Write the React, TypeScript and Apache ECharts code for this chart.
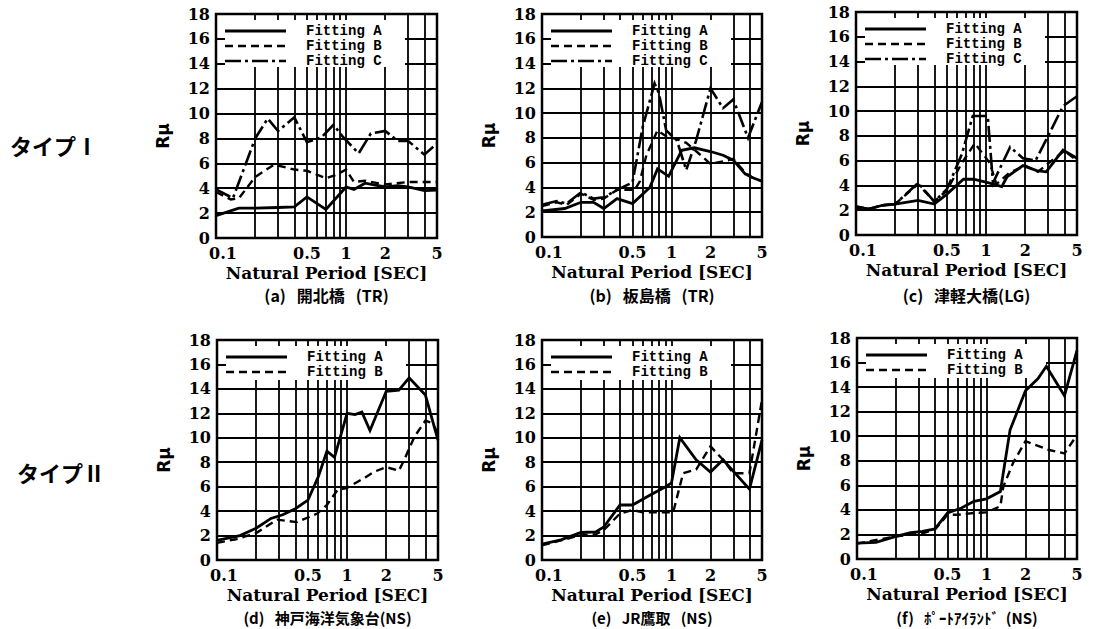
import React, { useEffect, useRef } from 'react';
import * as echarts from 'echarts';

// ---- axis values ----
const gridPeriods = [0.1, 0.2, 0.3, 0.4, 0.5, 0.6, 0.7, 0.8, 0.9, 1, 2, 3, 4, 5];
const labelPeriods = [0.1, 0.5, 1, 2, 5];
const yMin = 0;
const yMax = 18;
const yStep = 2;
const xName = 'Natural Period [SEC]';
const yName = 'Rμ';
const rowTitles = ['タイプⅠ', 'タイプⅡ'];
const legendNames = ['Fitting A', 'Fitting B', 'Fitting C'];

// ---- (a) 開北橋 ----
const aFitA = [[0.1, 1.8], [0.15, 2.4], [0.2, 2.4], [0.3, 2.45], [0.4, 2.5], [0.5, 3.3], [0.7, 2.3], [1, 4.1], [1.15, 3.9], [1.4, 4.4], [2, 4.1], [2.5, 4.2], [3, 4.1], [4, 3.8], [5, 3.85]];
const aFitB = [[0.1, 3.7], [0.13, 3.1], [0.15, 3.2], [0.2, 4.9], [0.28, 5.9], [0.4, 5.5], [0.5, 5.4], [0.7, 4.8], [0.85, 5.1], [1, 5.5], [1.15, 4.5], [1.4, 4.6], [2, 4.3], [3, 4.5], [4, 4.5], [5, 4.5]];
const aFitC = [[0.1, 3.9], [0.135, 3.2], [0.2, 8.0], [0.25, 9.6], [0.3, 8.6], [0.4, 9.7], [0.5, 7.7], [0.65, 8.1], [0.8, 9.1], [0.95, 8.1], [1.25, 6.8], [1.55, 8.4], [2, 8.6], [2.5, 7.8], [3, 7.8], [4, 6.7], [5, 7.6]];

// ---- (b) 板島橋 ----
const bFitA = [[0.1, 2.1], [0.15, 2.3], [0.2, 2.8], [0.25, 2.8], [0.3, 2.3], [0.38, 3.1], [0.5, 2.7], [0.68, 4.0], [0.78, 5.5], [0.95, 4.9], [1.2, 7.0], [1.5, 7.2], [2, 6.9], [2.5, 6.6], [3, 6.2], [3.7, 5.1], [4.2, 4.8], [5, 4.5]];
const bFitB = [[0.1, 2.5], [0.13, 2.8], [0.155, 2.6], [0.2, 3.5], [0.25, 3.0], [0.3, 3.1], [0.38, 3.8], [0.52, 3.8], [0.57, 4.5], [0.64, 6.6], [0.78, 8.6], [0.92, 8.1], [1.1, 7.9], [1.3, 7.6], [1.6, 6.8], [2, 5.9], [2.5, 6.1], [3, 6.3], [3.7, 5.2], [4.2, 4.8], [5, 4.5]];
const bFitC = [[0.1, 2.6], [0.13, 2.9], [0.155, 2.7], [0.2, 3.6], [0.25, 3.1], [0.3, 3.2], [0.38, 3.8], [0.5, 4.4], [0.6, 8.9], [0.74, 12.4], [0.8, 11.6], [0.91, 8.6], [1.1, 7.8], [1.3, 5.4], [1.55, 7.8], [2, 12.0], [2.5, 10.4], [3, 11.1], [3.9, 8.0], [5, 10.9]];

// ---- (c) 津軽大橋 ----
const cFitA = [[0.1, 2.2], [0.125, 2.1], [0.16, 2.4], [0.2, 2.5], [0.3, 2.8], [0.4, 2.5], [0.5, 3.3], [0.67, 4.5], [0.8, 4.5], [1.05, 4.2], [1.32, 3.9], [1.45, 4.7], [1.92, 5.6], [2.45, 5.2], [2.9, 5.1], [3.9, 6.85], [5, 6.2]];
const cFitB = [[0.1, 2.3], [0.125, 2.1], [0.16, 2.4], [0.2, 2.5], [0.3, 4.1], [0.4, 2.7], [0.5, 3.6], [0.65, 5.8], [0.82, 7.4], [1.07, 5.8], [1.2, 4.1], [1.5, 5.0], [2, 5.6], [2.5, 5.1], [3.2, 6.0], [4, 6.8], [5, 6.0]];
const cFitC = [[0.1, 2.3], [0.125, 2.1], [0.16, 2.4], [0.2, 2.5], [0.3, 4.2], [0.4, 2.7], [0.5, 3.7], [0.65, 6.5], [0.79, 9.6], [1.03, 9.6], [1.13, 4.2], [1.53, 7.1], [1.92, 6.2], [2.4, 6.0], [3, 8.0], [3.9, 10.4], [5, 11.2]];

// ---- (d) 神戸海洋気象台 ----
const dFitA = [[0.1, 1.6], [0.15, 2.0], [0.2, 2.6], [0.26, 3.4], [0.32, 3.7], [0.4, 4.2], [0.5, 4.9], [0.6, 6.8], [0.7, 8.9], [0.8, 8.4], [1, 12.0], [1.15, 11.9], [1.3, 12.1], [1.5, 10.6], [2, 13.8], [2.5, 13.9], [3, 14.9], [4, 13.5], [5, 9.8]];
const dFitB = [[0.1, 1.4], [0.14, 1.7], [0.2, 2.2], [0.29, 3.3], [0.41, 3.1], [0.59, 3.8], [0.7, 4.5], [0.84, 5.7], [1, 5.9], [1.4, 6.8], [1.6, 7.2], [2, 7.6], [2.5, 7.3], [2.75, 8.2], [3.3, 10.1], [4, 11.4], [4.5, 11.2], [5, 10.4]];

// ---- (e) JR鷹取 ----
const eFitA = [[0.1, 1.3], [0.14, 1.65], [0.2, 2.25], [0.26, 2.3], [0.3, 2.7], [0.4, 4.5], [0.5, 4.5], [0.68, 5.3], [0.9, 6.0], [1, 6.3], [1.16, 10.0], [1.55, 8.2], [2, 7.2], [2.5, 8.2], [4, 5.8], [5, 9.8]];
const eFitB = [[0.1, 1.2], [0.14, 1.6], [0.2, 2.05], [0.26, 2.1], [0.3, 2.45], [0.4, 3.8], [0.5, 4.1], [0.6, 3.9], [0.8, 3.9], [1.03, 3.9], [1.23, 7.1], [1.55, 7.4], [2, 9.3], [2.5, 8.2], [3, 7.1], [4, 7.1], [5, 13.1]];

// ---- (f) ポートアイランド ----
const fFitA = [[0.1, 1.3], [0.14, 1.36], [0.2, 1.85], [0.26, 2.15], [0.32, 2.25], [0.4, 2.45], [0.5, 3.75], [0.64, 4.15], [0.8, 4.7], [1, 4.9], [1.28, 5.5], [1.52, 10.5], [2, 13.7], [2.5, 14.7], [2.9, 15.7], [4, 13.3], [5, 17.0]];
const fFitB = [[0.1, 1.25], [0.2, 1.85], [0.32, 2.1], [0.4, 2.4], [0.5, 3.6], [0.6, 3.6], [0.8, 3.75], [1, 3.8], [1.28, 4.3], [1.35, 5.9], [1.6, 7.8], [2, 9.6], [3, 8.9], [4, 8.6], [5, 10.1]];

const captions = ['(a)   開北橋   (TR)', '(b)   板島橋   (TR)', '(c)   津軽大橋(LG)', '(d)   神戸海洋気象台(NS)', '(e)   JR鷹取   (NS)', '(f)   ﾎﾟｰﾄｱｲﾗﾝﾄﾞ  (NS)'];
const panelSeries = [
  [aFitA, aFitB, aFitC],
  [bFitA, bFitB, bFitC],
  [cFitA, cFitB, cFitC],
  [dFitA, dFitB],
  [eFitA, eFitB],
  [fFitA, fFitB],
];

// ---- layout (pixels) ----
const grids = [
  { left: 216, top: 14, width: 221, height: 224 },
  { left: 542, top: 14, width: 220, height: 223 },
  { left: 856, top: 12, width: 221, height: 223 },
  { left: 217, top: 340, width: 221, height: 220 },
  { left: 542, top: 340, width: 220, height: 220 },
  { left: 857, top: 338, width: 220, height: 221 },
];
const captionY = [295, 295, 295, 617.2, 617.2, 617.2];
const captionSize = [16, 16, 16, 15, 15, 15];
const xNameGap = [26, 26, 26, 26, 26, 26];
const labelDistance = [7, 7, 7, 7, 7, 7];
const rowTitlePos = [
  { x: 10, y: 145 },
  { x: 17, y: 472 },
];

const INK = '#000';
const SERIF = 'DejaVu Serif';
const lineTypes: any[] = ['solid', [8, 5], [16, 4, 3, 4]];
const lineWidths = [2.8, 2.4, 2.6];

function fmt(p: number) {
  return String(p);
}

export default function App() {
  const ref = useRef<HTMLDivElement>(null);

  useEffect(() => {
    if (!ref.current) return;
    const chart = echarts.init(ref.current, null, { renderer: 'svg' });

    const gridOpt = grids.map((g) => ({
      left: g.left,
      top: g.top,
      width: g.width,
      height: g.height,
      show: true,
      borderColor: INK,
      borderWidth: 2.5,
      backgroundColor: 'transparent',
      containLabel: false,
    }));

    const xAxes = grids.map((g, i) => ({
      type: 'log',
      logBase: 10,
      gridIndex: i,
      min: 0.1,
      max: 5,
      name: xName,
      nameLocation: 'middle',
      nameGap: xNameGap[i],
      nameTextStyle: { fontFamily: SERIF, fontWeight: 'bold', fontSize: 17, color: INK },
      axisLine: { show: false },
      axisTick: { show: false },
      axisLabel: { show: false },
      splitLine: { show: false },
      minorTick: { show: false },
      minorSplitLine: { show: false },
    }));

    const yAxes = grids.map((g, i) => ({
      type: 'value',
      gridIndex: i,
      min: yMin,
      max: yMax,
      interval: yStep,
      name: yName,
      nameLocation: 'middle',
      nameGap: 45,
      nameTextStyle: {
        fontFamily: 'DejaVu Sans',
        fontWeight: 'bold',
        fontSize: 17,
        color: INK,
        padding: [0, 20, 0, 0],
      },
      axisLine: { show: false },
      axisTick: { show: false },
      axisLabel: {
        margin: 6,
        fontFamily: SERIF,
        fontWeight: 'bold',
        fontSize: 16,
        color: INK,
      },
      splitLine: { show: true, lineStyle: { color: INK, width: 1.8 } },
    }));

    const series: any[] = [];
    panelSeries.forEach((list, i) => {
      list.forEach((data, k) => {
        const s: any = {
          type: 'line',
          name: legendNames[k],
          xAxisIndex: i,
          yAxisIndex: i,
          data,
          symbol: 'none',
          showSymbol: false,
          smooth: false,
          clip: true,
          z: 3,
          silent: true,
          emphasis: { disabled: true },
          lineStyle: { color: INK, width: lineWidths[k], type: lineTypes[k], cap: 'butt', join: 'miter' },
        };
        if (k === 0) {
          s.markLine = {
            silent: true,
            z: 1,
            symbol: ['none', 'none'],
            animation: false,
            emphasis: { disabled: true },
            lineStyle: { color: INK, width: 1.8, type: 'solid' },
            label: {
              show: true,
              position: 'start',
              distance: labelDistance[i],
              formatter: '{b}',
              fontFamily: SERIF,
              fontWeight: 'bold',
              fontSize: 16,
              color: INK,
            },
            data: gridPeriods.map((p) => {
              const labeled = labelPeriods.indexOf(p) >= 0;
              return {
                xAxis: p,
                name: labeled ? fmt(p) : '',
                label: { show: labeled, padding: p === 0.1 ? [0, 0, 0, 14] : 0 },
              };
            }),
          };
        }
        series.push(s);
      });
    });

    const graphics: any[] = [];
    grids.forEach((g, i) => {
      const n = panelSeries[i].length;
      graphics.push({
        type: 'rect',
        z: 2,
        silent: true,
        shape: { x: g.left + 9, y: g.top + 6, width: 180, height: n === 3 ? 47 : 34 },
        style: { fill: '#fff' },
      });
      for (let k = 0; k < n; k++) {
        const y = g.top + 17 + k * 15;
        graphics.push({
          type: 'line',
          z: 4,
          silent: true,
          shape: { x1: g.left + 9, y1: y, x2: g.left + 70, y2: y },
          style: { stroke: INK, lineWidth: lineWidths[k], lineDash: k === 0 ? null : lineTypes[k] },
        });
        graphics.push({
          type: 'text',
          z: 4,
          silent: true,
          x: g.left + 90,
          y,
          style: {
            text: legendNames[k],
            fill: INK,
            fontFamily: 'Liberation Mono',
            fontWeight: 'bold',
            fontSize: 14,
            align: 'left',
            verticalAlign: 'middle',
          },
        });
      }
      graphics.push({
        type: 'text',
        z: 4,
        silent: true,
        x: g.left + g.width / 2,
        y: captionY[i],
        style: {
          text: captions[i],
          fill: INK,
          fontFamily: 'Noto Sans CJK JP',
          fontWeight: 'bold',
          fontSize: captionSize[i],
          align: 'center',
          verticalAlign: 'middle',
        },
      });
    });
    rowTitles.forEach((t, r) => {
      graphics.push({
        type: 'text',
        z: 4,
        silent: true,
        x: rowTitlePos[r].x,
        y: rowTitlePos[r].y,
        style: {
          text: t,
          fill: INK,
          fontFamily: 'Noto Sans CJK JP',
          fontWeight: 'bold',
          fontSize: 22,
          align: 'left',
          verticalAlign: 'middle',
        },
      });
    });

    chart.setOption({
      animation: false,
      backgroundColor: '#fff',
      grid: gridOpt,
      xAxis: xAxes,
      yAxis: yAxes,
      series,
      graphic: { elements: graphics },
    });

    return () => {
      chart.dispose();
    };
  }, []);

  return (
    <div
      ref={ref}
      style={{ position: 'absolute', left: 0, top: 0, width: 1101, height: 629, background: '#fff' }}
    />
  );
}
